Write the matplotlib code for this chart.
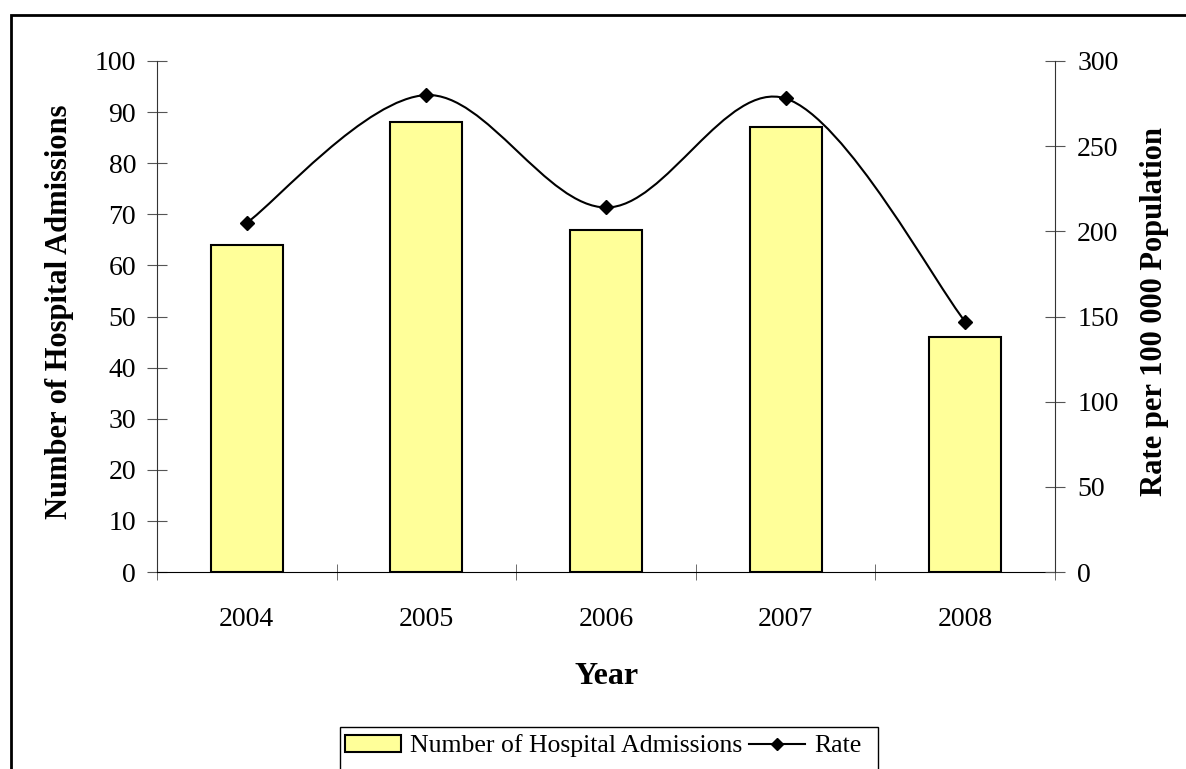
import numpy as np
import matplotlib.pyplot as plt
from matplotlib.path import Path
from matplotlib.patches import PathPatch, Rectangle, Patch
from matplotlib.lines import Line2D

years = ["2004", "2005", "2006", "2007", "2008"]
admissions = [64, 88, 67, 87, 46]
rate = [205, 280, 214, 278, 147]

plt.rcParams["font.family"] = ["Liberation Serif", "DejaVu Serif"]

fig = plt.figure(figsize=(11.86, 7.69), dpi=100)
ax = fig.add_axes([157 / 1186, 1 - 572 / 769, 898 / 1186, 511 / 769])
ax2 = ax.twinx()

x = np.arange(len(years))
ax.bar(x, admissions, width=0.4, color="#FFFF99", edgecolor="black", linewidth=1.5, zorder=2)

# smoothed line through the rate points (Catmull-Rom style bezier, like the spreadsheet "smooth" option)
pts = np.column_stack([x, rate]).astype(float)
padded = np.vstack([pts[0], pts, pts[-1]])
verts = [tuple(pts[0])]
codes = [Path.MOVETO]
for i in range(len(pts) - 1):
    p0, p1, p2, p3 = padded[i], padded[i + 1], padded[i + 2], padded[i + 3]
    c1 = p1 + (p2 - p0) / 6
    c2 = p2 - (p3 - p1) / 6
    verts += [tuple(c1), tuple(c2), tuple(p2)]
    codes += [Path.CURVE4] * 3
ax2.add_patch(PathPatch(Path(verts, codes), facecolor="none", edgecolor="black", linewidth=1.5, zorder=3))
ax2.plot(x, rate, linestyle="none", marker="D", markersize=7, color="black", zorder=4)

ax.set_xlim(-0.5, 4.5)
ax.set_ylim(0, 100)
ax2.set_ylim(0, 300)
ax.set_yticks(range(0, 101, 10))
ax2.set_yticks(range(0, 301, 50))

ax.set_xticks(x)
ax.set_xticklabels(years)
ax.set_xticks(np.arange(-0.5, 5, 1), minor=True)
ax.tick_params(axis="x", which="major", length=0, pad=25, labelsize=20)
ax.tick_params(axis="x", which="minor", direction="inout", length=12, color="#555555")
ax.tick_params(axis="y", direction="inout", length=14, pad=8, labelsize=20, color="#555555")
ax2.tick_params(axis="y", direction="inout", length=14, pad=9, labelsize=20, color="#555555")

for a in (ax, ax2):
    a.spines["top"].set_visible(False)
ax.spines["right"].set_visible(False)
ax2.spines["left"].set_visible(False)
ax2.spines["bottom"].set_visible(False)
ax.spines["left"].set_color("#333333")
ax2.spines["right"].set_color("#333333")
ax.spines["bottom"].set_color("black")

ax.set_xlabel("Year", fontsize=23, fontweight="bold")
ax.xaxis.set_label_coords(0.501, -0.176)
ax.set_ylabel("Number of Hospital Admissions", fontsize=22, fontweight="bold")
ax.yaxis.set_label_coords(-0.092, 0.509)
ax2.set_ylabel("Rate per 100 000 Population", fontsize=22, fontweight="bold")
ax2.yaxis.set_label_coords(1.095, 0.509)

# legend, framed box running off the bottom edge
handles = [
    Patch(facecolor="#FFFF99", edgecolor="black", linewidth=1.5),
    Line2D([], [], color="black", marker="D", markersize=6, linewidth=1.5),
]
fig.legend(handles, ["Number of Hospital Admissions", "Rate"], loc="center",
           bbox_to_anchor=(603 / 1186, 1 - 746 / 769), ncol=2, frameon=False,
           fontsize=18.5, handlelength=2.2, handletextpad=0.35, columnspacing=0.25)
fig.add_artist(Rectangle((340 / 1186, -0.05), (878 - 340) / 1186, 0.05 + 1 - 727 / 769,
                         transform=fig.transFigure, fill=False, edgecolor="black", linewidth=1))

# outer chart border
fig.add_artist(Rectangle((11 / 1186, -0.05), 1.1, 0.05 + 1 - 15 / 769,
                         transform=fig.transFigure, fill=False, edgecolor="black", linewidth=2))

fig.savefig("out.png", dpi=100)
